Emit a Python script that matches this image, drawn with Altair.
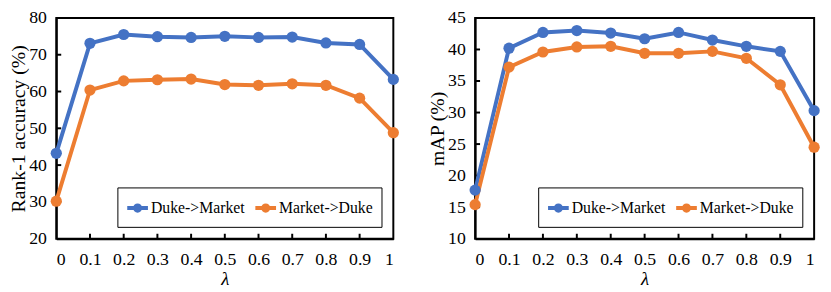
import altair as alt
import pandas as pd

lam = [0, 0.1, 0.2, 0.3, 0.4, 0.5, 0.6, 0.7, 0.8, 0.9, 1]
series_names = ["Duke->Market", "Market->Duke"]
colors = ["#4472C4", "#ED7D31"]

rank1_duke_market = [43.2, 73.1, 75.5, 74.9, 74.7, 75.0, 74.7, 74.8, 73.2, 72.8, 63.3]
rank1_market_duke = [30.2, 60.4, 62.9, 63.2, 63.4, 61.9, 61.7, 62.1, 61.7, 58.2, 48.8]
map_duke_market = [17.7, 40.2, 42.7, 43.0, 42.6, 41.7, 42.7, 41.5, 40.5, 39.7, 30.3]
map_market_duke = [15.4, 37.2, 39.6, 40.4, 40.5, 39.4, 39.4, 39.7, 38.6, 34.4, 24.5]

rank1_ticks = [20, 30, 40, 50, 60, 70, 80]
map_ticks = [10, 15, 20, 25, 30, 35, 40, 45]

FONT = "Liberation Serif"
W1, W2, H = 342, 344, 224

LEG_PATH = ("M-1,0 L1,0 "
            "M0.25,0 A0.25,0.25 0 1,1 -0.25,0 A0.25,0.25 0 1,1 0.25,0 "
            "M0.08,0 A0.08,0.08 0 1,1 -0.08,0 A0.08,0.08 0 1,1 0.08,0")


def panel(a, b, ticks, ytitle, width):
    df = pd.DataFrame({
        "lam": lam * 2,
        "val": a + b,
        "series": [series_names[0]] * len(lam) + [series_names[1]] * len(lam),
    })
    xenc = alt.X("lam:Q", title="λ",
                 scale=alt.Scale(domain=[0, 1], nice=False, zero=False),
                 axis=alt.Axis(values=lam, format="~g", ticks=False, tickSize=0,
                               grid=False, labelPadding=12, titlePadding=1,
                               titleFontSize=19,
                               titleFontStyle="italic", titleFontWeight="normal"))
    yenc = alt.Y("val:Q", title=ytitle,
                 scale=alt.Scale(domain=[ticks[0], ticks[-1]], nice=False, zero=False),
                 axis=alt.Axis(values=ticks, ticks=False, tickSize=0, grid=False,
                               labelPadding=10, titlePadding=0,
                               titleFontWeight="normal"))
    legend = alt.Legend(title=None, orient="bottom-right", direction="horizontal",
                        offset=12, padding=8, strokeColor="black", fillColor="white",
                        symbolType=LEG_PATH, symbolSize=441, symbolStrokeWidth=4,
                        labelFont=FONT, labelFontSize=16, labelColor="black",
                        labelOffset=1, columnPadding=2)
    cenc = alt.Color("series:N", scale=alt.Scale(domain=series_names, range=colors),
                     legend=legend)
    base = alt.Chart(df)
    xt = alt.Chart(pd.DataFrame({"lam": lam[1:-1]})).mark_rule(
        color="black", strokeWidth=2).encode(x=xenc, y=alt.value(H), y2=alt.value(H - 5))
    yt = alt.Chart(pd.DataFrame({"val": ticks[1:-1]})).mark_rule(
        color="black", strokeWidth=2).encode(y=yenc, x=alt.value(0), x2=alt.value(5))
    line = base.mark_line(strokeWidth=4).encode(x=xenc, y=yenc, color=cenc)
    pts = base.mark_circle(size=130, opacity=1).encode(x=xenc, y=yenc, color=cenc)
    return alt.layer(xt, yt, line, pts).properties(width=width, height=H)


left = panel(rank1_duke_market, rank1_market_duke, rank1_ticks, "Rank-1 accuracy (%)", W1)
right = panel(map_duke_market, map_market_duke, map_ticks, "mAP (%)", W2)

chart = alt.hconcat(left, right, spacing=25).resolve_legend(color="independent").properties(
    padding={"left": 0, "top": -2, "right": 0, "bottom": 0},
    background="white",
).configure_view(stroke="black", strokeWidth=2).configure_axis(
    labelFont=FONT, labelFontSize=18, labelColor="black",
    titleFont=FONT, titleFontSize=20, titleColor="black",
    domainColor="black", domainWidth=2,
)

chart.save("out.html", embed_options={"renderer": "svg", "actions": False})
